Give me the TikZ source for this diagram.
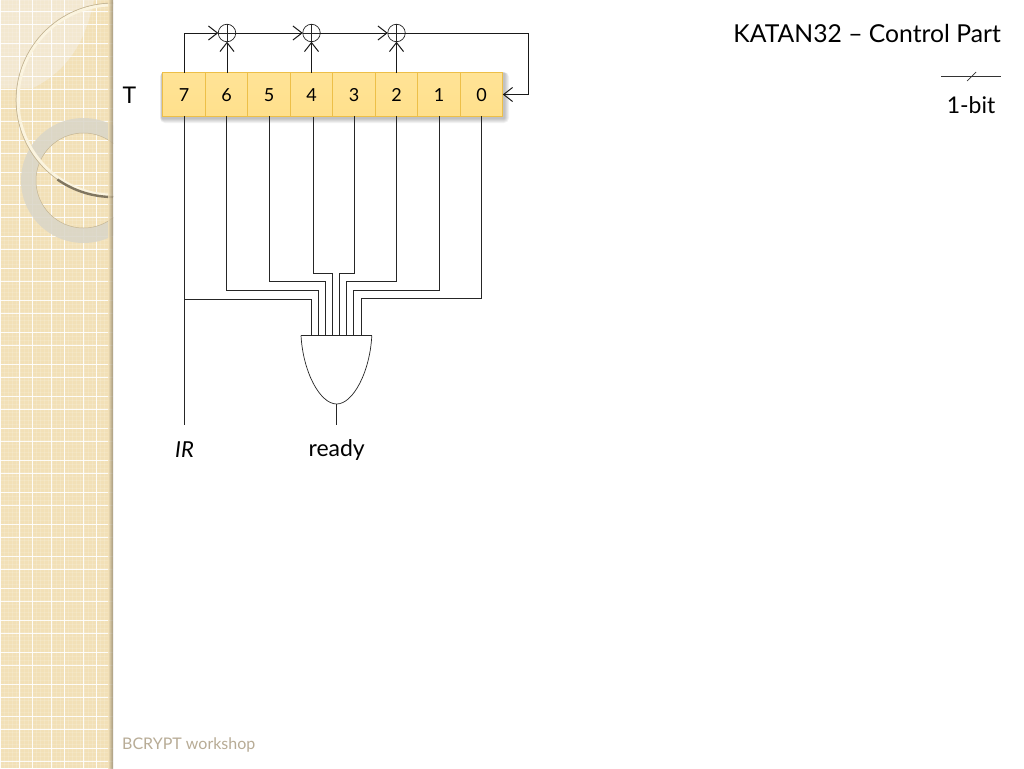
\documentclass[tikz,border=0pt]{standalone}
\usepackage{fontspec}
\setmainfont{Lato}
\usetikzlibrary{arrows.meta}
\definecolor{strip}{HTML}{F2E0B7}
\definecolor{stripl}{HTML}{F3E8D0}
\definecolor{cella}{HTML}{FFE396}
\definecolor{cellm}{HTML}{FFECBC}
\definecolor{cellb}{HTML}{FFE08C}
\definecolor{cellline}{HTML}{EDBF48}
\definecolor{foot}{HTML}{B8AC96}
\definecolor{ringg}{HTML}{DAD6C8}
\definecolor{ringe}{HTML}{C4B593}
\definecolor{ringc}{HTML}{FBF4DF}
\tikzset{
  wire/.style={draw=black!85,line width=0.9pt},
  arrowwire/.style={draw=black!90,line width=0.9pt,-{Straight Barb[length=9pt,width=14pt,line width=1pt]}},
  cellbox/.style={minimum width=42.5pt,minimum height=43.5pt,inner sep=0pt,outer sep=0pt,draw=cellline,line width=1.3pt,top color=cella,middle color=cellm,bottom color=cellb,text height=13pt,text depth=0pt,font=\fontsize{18}{20}\selectfont},
  xorc/.style={circle,draw=black!85,line width=0.7pt,minimum size=17.5pt,inner sep=0pt,outer sep=0pt},
  lab/.style={inner sep=0pt,font=\fontsize{23}{26}\selectfont}
}
\begin{document}
\begin{tikzpicture}[x=1pt,y=-1pt]
\useasboundingbox (0,0) rectangle (1024,768);
\fill[white] (0,0) rectangle (1024,768);
% decorative strip
\begin{scope}
\clip (0,0) rectangle (113,768);
\fill[strip] (0,0) rectangle (113,768);
\fill[stripl] (0,0) -- (94,0) .. controls (85,45) and (65,72) .. (33,88) -- (0,88) -- cycle;
\foreach \x in {0,...,28}{\draw[white,line width=.8pt,opacity=.13] (\x*4,0) -- (\x*4,768);}
\foreach \y in {0,...,192}{\draw[white,line width=.8pt,opacity=.13] (0,\y*4) -- (113,\y*4);}
\foreach \x in {0,...,3}{
  \draw[white,line width=1pt,opacity=.9] (\x*32+19,0) -- (\x*32+19,768);
  \draw[white,line width=1pt,opacity=.9] (\x*32,0) -- (\x*32,768);
}
\foreach \y in {0,...,24}{
  \draw[white,line width=1pt,opacity=.9] (0,\y*32+12) -- (113,\y*32+12);
  \draw[white,line width=1pt,opacity=.9] (0,\y*32+25) -- (113,\y*32+25);
}
\fill[ringg,opacity=.88,even odd rule] (83.5,180.5) circle (62.5) (83.5,180.5) circle (47.5);
\draw[ringe,line width=.5pt] (83.5,180.5) circle (47.5);
\draw[ringe,line width=1pt] (113,100) circle (96.8);
\draw[ringc,line width=2.8pt] (113,100) circle (95);
\draw[ringe!65!black,line width=2.4pt] (113,197) arc (90:125:97);
\shade[left color=strip,right color=black!40!strip,opacity=.8] (108,0) rectangle (113,768);
\end{scope}
% soft shadow of the register
\foreach \g in {5,4,3,2,1}{
  \fill[black,opacity=.05,rounded corners=\g pt] (162-\g*.4,73-\g*.2) rectangle (504+\g,118+\g);
}
% register
\foreach \n/\t [count=\i from 0] in {c7/7,c6/6,c5/5,c4/4,c3/3,c2/2,c1/1,c0/0}{
  \node[cellbox] (\n) at (184+\i*42.5,94.5) {\t};
}
\node[lab] (T) at (129.5,95.5) {T};
% XORs
\node[xorc] (x1) at (227,33) {};
\node[xorc] (x2) at (311.5,33) {};
\node[xorc] (x3) at (396.5,33) {};
\foreach \p in {x1,x2,x3}{
  \draw[draw=black!85,line width=0.6pt] (\p.north) -- (\p.south) (\p.west) -- (\p.east);
}
\coordinate (tl) at (184,33);
\coordinate (tr) at (528,33);
\coordinate (br) at (528,94.5);
\draw[arrowwire] (c7.north -| tl) -- (tl) -- (x1.west);
\draw[arrowwire] (x1.east) -- (x2.west);
\draw[arrowwire] (x2.east) -- (x3.west);
\draw[arrowwire] (x3.east) -- (tr) -- (br) -- (c0.east);
\draw[arrowwire] (c6.north -| x1) -- (x1.south);
\draw[arrowwire] (c4.north -| x2) -- (x2.south);
\draw[arrowwire] (c2.north -| x3) -- (x3.south);
% AND gate
\coordinate (gl) at (301,335.5);
\coordinate (gr) at (371.8,335.5);
\coordinate (gb) at (336.7,404);
\coordinate (gout) at (336.7,425);
\coordinate (irend) at (184.5,425);
\coordinate (jn) at (184.5,299);
\draw[draw=black!85,line width=.7pt] (gl) -- (gr);
\draw[draw=black!85,line width=.7pt] (gl) .. controls (303,372) and (320,404) .. (gb) .. controls (353,404) and (370,372) .. (gr);
\draw[wire] (gb) -- (gout);
% wires
\draw[wire] (c7.south -| jn) -- (irend);
\draw[wire] (jn) -- (311.7,299) -- (311.7,335.5);
\draw[wire] (c6.south) -- (226.5,290) -- (318.3,290) -- (318.3,335.5);
\draw[wire] (c5.south) -- (269,281.5) -- (325.3,281.5) -- (325.3,335.5);
\draw[wire] (313.4,116.5) -- (313.4,273.7) -- (332.3,273.7) -- (332.3,335.5);
\draw[wire] (c3.south) -- (354,273.7) -- (339.3,273.7) -- (339.3,335.5);
\draw[wire] (c2.south) -- (396.5,281.7) -- (346.3,281.7) -- (346.3,335.5);
\draw[wire] (c1.south) -- (439,290) -- (353.7,290) -- (353.7,335.5);
\draw[wire] (c0.south) -- (481.5,298) -- (361.7,298) -- (361.7,335.5);
% labels
\node[lab,font=\itshape\fontsize{22}{26}\selectfont] (ir) at (184.5,450) {IR};
\node[lab] (ready) at (336.7,450) {ready};
\node[lab,anchor=east,font=\fontsize{24.7}{28}\selectfont] (title) at (1001,34) {KATAN32 – Control Part};
\coordinate (la) at (941,76);
\coordinate (lb) at (1001,76);
\coordinate (sa) at (967,81);
\coordinate (sb) at (976,72);
\draw[black!80,line width=0.6pt] (la) -- (lb);
\draw[black!80,line width=0.7pt] (sa) -- (sb);
\node[lab] (bit) at (971,105) {1-bit};
\node[inner sep=0pt,anchor=west,text=foot,font=\fontsize{16}{18}\selectfont] (bc) at (122,745) {BCRYPT workshop};
\end{tikzpicture}
\end{document}
